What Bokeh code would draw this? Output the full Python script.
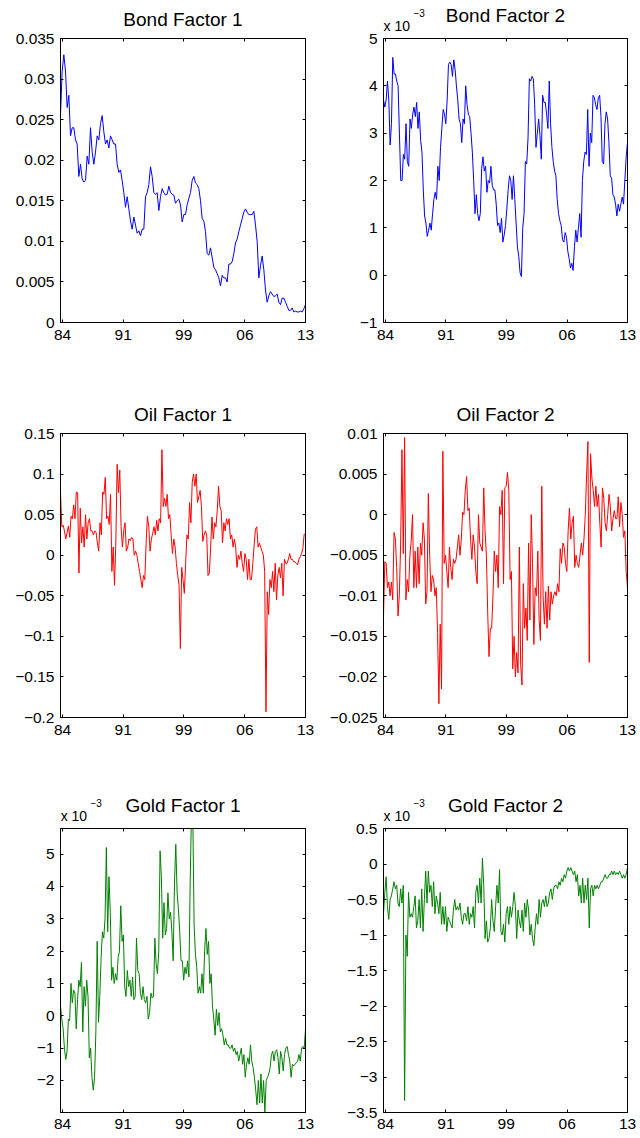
import numpy as np
from bokeh.plotting import figure
from bokeh.layouts import gridplot
from bokeh.models import Range1d, FixedTicker, CustomJSTickFormatter, LinearAxis, Title
from bokeh.embed import file_html
from bokeh.resources import INLINE

# ---------------- data ----------------
N_MONTHS = 348  # monthly sample 1984 - 2013
x_tick_pos = [3, 89, 175, 262, 348]
x_tick_labels = ["84", "91", "99", "06", "13"]
SCALE_POS = 19        # x position (months) of the "x 10" scale note
SCALE_TEXT = "x 10"
SCALE_EXP = "\u22123"

bond_f1 = [0.0255, 0.031, 0.033, 0.031, 0.0265, 0.028, 0.023, 0.024, 0.024, 0.0225, 0.022, 0.018, 0.0195,
           0.0177, 0.0173, 0.0175, 0.0205, 0.0195, 0.024, 0.021, 0.0195, 0.021, 0.023, 0.0225, 0.0245, 0.0255,
           0.0235, 0.022, 0.0225, 0.0215, 0.023, 0.0225, 0.022, 0.022, 0.0195, 0.0185, 0.0188, 0.0175, 0.016,
           0.0142, 0.0155, 0.014, 0.0125, 0.0115, 0.013, 0.012, 0.011, 0.0113, 0.0107, 0.0115, 0.0115, 0.0155,
           0.016, 0.017, 0.0192, 0.018, 0.016, 0.0158, 0.016, 0.0138, 0.0155, 0.0165, 0.016, 0.0157, 0.0158,
           0.0168, 0.016, 0.0158, 0.0157, 0.0147, 0.015, 0.0152, 0.0145, 0.0124, 0.0133, 0.0133, 0.0145, 0.0153,
           0.016, 0.0175, 0.018, 0.0172, 0.017, 0.0165, 0.015, 0.0128, 0.0125, 0.0112, 0.0085, 0.0083, 0.0092,
           0.008, 0.0068, 0.0065, 0.006, 0.0055, 0.0045, 0.0058, 0.0055, 0.0055, 0.005, 0.0072, 0.0072, 0.0075,
           0.0085, 0.0098, 0.0103, 0.0112, 0.012, 0.0128, 0.0136, 0.014, 0.0136, 0.0133, 0.0133, 0.0133, 0.0137,
           0.012, 0.01, 0.0055, 0.007, 0.0082, 0.0065, 0.004, 0.0025, 0.0033, 0.0038, 0.0035, 0.0032, 0.0033,
           0.0035, 0.0025, 0.0022, 0.003, 0.003, 0.0025, 0.002, 0.0015, 0.0015, 0.0018, 0.0013, 0.0014, 0.0013,
           0.0013, 0.0014, 0.0013, 0.0017, 0.0022]

# Bond factor 2, in units of 1e-3
bond_f2 = [3.7, 3.55, 3.7, 4.1, 3.7, 2.75, 3.2, 4.6, 4.25, 4.25, 4.1, 4.0, 3.0, 2.0, 2.0, 2.55, 2.45, 3.2, 2.4,
           2.3, 3.3, 3.1, 3.4, 3.55, 3.35, 3.65, 3.1, 3.45, 2.85, 2.6, 1.8, 1.25, 1.1, 0.82, 0.95, 1.1, 0.95, 1.3,
           1.6, 1.75, 1.6, 2.3, 2.0, 2.7, 3.1, 3.5, 3.4, 3.2, 3.7, 4.45, 4.5, 4.45, 4.2, 4.55, 4.35, 4.0, 3.7, 3.3,
           3.2, 2.8, 3.3, 3.2, 4.0, 3.6, 3.4, 3.35, 3.0, 2.6, 2.0, 1.3, 1.7, 1.3, 1.15, 1.3, 2.25, 2.5, 2.2, 2.3,
           1.75, 2.0, 1.95, 2.3, 1.9, 1.8, 1.8, 1.5, 1.05, 1.1, 0.9, 1.2, 0.7, 0.85, 1.05, 1.4, 1.8, 2.1, 2.0, 1.6,
           2.1, 1.6, 1.1, 0.6, 0.4, 0.05, -0.03, 1.0, 1.3, 2.4, 2.35, 2.9, 4.15, 4.1, 4.2, 4.15, 3.6, 2.7, 3.0,
           3.3, 2.95, 2.45, 3.8, 3.65, 3.65, 3.4, 3.1, 4.1, 3.2, 2.7, 2.4, 2.2, 2.1, 1.6, 1.3, 1.15, 1.05, 0.75,
           0.7, 0.9, 0.8, 0.5, 0.35, 0.15, 0.25, 0.1, 0.6, 0.95, 0.7, 1.0, 1.3, 0.8, 2.0, 2.4, 2.6, 2.55, 3.5, 2.3,
           3.0, 2.8, 3.8, 3.75, 3.6, 3.5, 3.75, 3.8, 3.35, 2.4, 2.35, 3.2, 3.45, 3.3, 2.8, 2.1, 2.05, 1.7, 1.65,
           1.5, 1.25, 1.5, 1.35, 1.5, 1.65, 1.5, 2.0, 2.5, 2.8]

oil_f1 = [0.077, 0.035, 0.037, 0.03, 0.02, 0.028, 0.036, 0.022, 0.048, 0.045, 0.062, 0.045, 0.078, 0.077, -0.022,
          0.058, 0.015, 0.035, 0.01, 0.05, 0.02, 0.04, 0.045, 0.03, 0.03, 0.025, 0.03, 0.028, 0.015, 0.005, 0.04,
          0.025, 0.078, 0.075, 0.096, 0.045, 0.048, 0.038, 0.075, -0.02, 0.01, -0.037, 0.015, 0.112, 0.077, 0.105,
          0.035, 0.01, 0.03, 0.04, 0.005, 0.01, 0.02, 0.018, 0.022, 0.02, 0.0, 0.005, 0.0, -0.01, -0.02, -0.03,
          -0.04, -0.025, -0.03, 0.015, 0.048, 0.035, 0.005, 0.02, 0.027, 0.035, 0.025, 0.043, 0.03, 0.045, 0.04,
          0.13, 0.06, 0.07, 0.06, 0.075, 0.045, 0.05, 0.025, 0.002, 0.02, 0.01, -0.01, -0.025, -0.037, -0.115,
          -0.015, -0.03, -0.047, -0.01, 0.025, 0.02, 0.065, 0.04, 0.09, 0.1, 0.085, 0.1, 0.065, 0.072, 0.08, 0.06,
          0.017, 0.025, 0.03, 0.025, -0.025, -0.022, 0.01, 0.047, 0.02, 0.04, 0.035, 0.055, 0.085, 0.06, 0.055,
          0.015, 0.04, 0.03, 0.045, 0.038, 0.045, 0.02, 0.025, 0.01, 0.02, 0.01, -0.015, 0.0, -0.005, 0.005, -0.01,
          -0.02, 0.002, -0.005, -0.03, -0.005, -0.03, -0.03, -0.01, 0.012, 0.032, 0.035, 0.01, 0.015, 0.01, 0.005,
          0.0, -0.02, -0.193, -0.045, -0.073, -0.03, -0.04, -0.02, -0.045, -0.01, -0.055, -0.025, -0.015, -0.028,
          -0.01, -0.05, -0.005, -0.01, -0.01, -0.005, 0.002, -0.005, -0.005, -0.008, -0.008, -0.01, -0.012,
          -0.005, -0.002, 0.002, 0.008, 0.026, 0.025]

oil_f2 = [-0.0125, -0.0058, -0.006, -0.009, -0.0083, -0.01, -0.0083, -0.0105, -0.0022, -0.003, -0.0065, -0.0125,
          -0.01, -0.0035, 0.008, -0.0048, 0.0095, -0.0105, -0.008, -0.0095, -0.005, -0.0033, 0.0, -0.009, -0.0045,
          -0.009, -0.004, -0.0085, -0.0035, -0.005, -0.001, -0.003, -0.011, -0.0095, 0.0026, -0.005, -0.0095,
          -0.0075, -0.008, -0.01, -0.009, -0.0145, -0.0233, -0.0135, -0.0215, 0.0078, -0.006, -0.005, -0.007,
          -0.009, -0.004, -0.0065, -0.008, -0.0055, -0.006, -0.0055, -0.004, -0.0025, -0.005, -0.003, 0.0003, 0.0,
          0.003, 0.0047, 0.0005, 0.0008, -0.003, -0.0055, -0.0025, -0.004, -0.007, -0.0085, 0.0, -0.0035, -0.004,
          -0.0045, 0.0033, -0.002, -0.005, -0.012, -0.0175, -0.014, -0.014, -0.01, -0.0045, -0.007, -0.005,
          -0.009, 0.001, 0.0, 0.003, -0.0085, 0.0033, 0.0035, 0.0052, 0.003, -0.008, -0.007, -0.019, -0.015,
          -0.02, -0.017, -0.0195, -0.004, -0.0185, -0.021, -0.0085, -0.014, -0.0115, -0.0155, -0.0035, -0.013,
          0.0, -0.006, -0.016, -0.009, -0.01, -0.0045, -0.013, -0.0155, 0.0035, -0.01, -0.0135, -0.0095, -0.014,
          -0.0088, -0.013, -0.0095, -0.011, -0.01, -0.0095, -0.01, -0.0085, -0.0095, -0.0042, -0.006, -0.0035,
          -0.004, -0.006, -0.007, -0.002, 0.0008, -0.003, -0.001, -0.0002, -0.0065, -0.005, -0.006, -0.0065,
          -0.005, -0.0035, -0.005, -0.003, 0.0, 0.005, 0.009, -0.0182, 0.0075, 0.0045, 0.003, 0.001, 0.0035,
          0.001, 0.0025, -0.001, -0.004, 0.0033, 0.002, -0.001, -0.002, 0.0, 0.0025, 0.001, -0.002, -0.0005,
          0.0005, -0.0005, -0.0005, 0.0022, -0.0015, 0.0015, 0.0, -0.0028, -0.002, -0.007, -0.009]

# Gold factors, in units of 1e-3
gold_f1 = [0.3, -0.1, -0.4, -1.0, -1.35, -1.1, -0.1, -0.15, 1.0, 0.4, 0.8, 0.7, -0.4, 0.5, 1.1, 0.9, 1.65, -0.5,
           0.9, 0.3, 1.1, 0.6, -1.3, -1.0, -1.9, -2.3, -1.9, -0.5, 2.3, -0.2, 0.6, 1.8, 2.6, 2.4, 3.0, 5.2, 2.6,
           4.3, 3.2, 1.1, 1.5, 1.0, 1.3, 1.1, 1.8, 2.0, 3.4, 2.3, 2.5, 0.9, 0.6, 1.4, 0.9, 1.1, 0.6, 1.2, 0.5, 0.6,
           2.4, 1.4, 1.3, 0.7, 0.5, 0.9, 0.5, 0.4, 0.6, -0.1, 0.1, 0.7, 0.55, 0.6, 2.4, 1.6, 1.3, 2.0, 5.1, 4.3,
           2.4, 3.5, 2.5, 2.7, 3.8, 3.0, 3.2, 2.6, 1.7, 4.1, 5.3, 3.8, 3.3, 2.6, 1.7, 1.7, 1.1, 1.5, 1.3, 1.7, 1.2,
           4.2, 6.3, 6.1, 2.8, 1.9, 1.5, 0.7, 0.9, 0.7, 1.3, 0.7, 2.0, 2.7, 1.9, 2.3, 1.0, 1.3, 0.3, -0.1, -0.6,
           0.2, -0.3, 0.1, -0.5, -0.4, -0.6, -0.9, -0.7, -0.9, -0.9, -1.0, -1.0, -0.9, -1.1, -1.0, -1.2, -1.1,
           -1.4, -1.2, -1.0, -1.5, -1.2, -1.9, -1.5, -1.3, -1.5, -0.9, -1.4, -1.6, -1.9, -2.3, -2.75, -2.0, -2.7,
           -1.8, -2.7, -2.0, -2.99, -2.0, -1.9, -1.8, -1.6, -1.2, -1.1, -1.4, -1.1, -1.05, -1.3, -1.8, -1.1, -1.3,
           -1.7, -1.2, -1.0, -0.95, -1.2, -1.4, -1.9, -1.5, -1.55, -1.5, -1.45, -1.4, -1.2, -1.4, -1.0, -0.95,
           -1.0, -0.4]

gold_f2 = [-0.7, -0.4, -0.18, -0.6, -0.78, -0.5, -0.45, -0.35, -0.25, -0.35, -0.3, -0.55, -0.6, -0.35, -0.55,
           -0.3, -3.33, -1.0, -1.3, -0.4, -0.75, -0.7, -0.75, -0.6, -0.45, -0.9, -0.8, -0.5, -0.9, -0.35, -0.95,
           -0.5, -0.1, -0.55, -0.1, -0.4, -0.3, -0.6, -0.25, -0.7, -0.45, -0.55, -0.7, -0.4, -0.85, -0.6, -0.85,
           -0.6, -0.95, -0.75, -0.8, -0.85, -0.9, -0.65, -0.5, -0.65, -0.6, -0.65, -0.55, -0.75, -0.85, -0.7,
           -0.7, -0.8, -0.6, -0.85, -0.7, -0.75, -0.6, -0.9, -0.4, -0.3, -0.55, -0.2, -0.55, 0.08, -0.3, -1.05,
           -0.8, -1.1, -1.05, -0.9, -0.5, -0.8, -0.95, -0.6, -0.3, -0.55, -0.08, -0.95, -1.0, -0.85, -1.1, -0.7,
           -0.6, -0.85, -0.6, -0.75, -0.6, -0.4, -0.6, -1.05, -0.65, -0.8, -0.9, -0.65, -0.95, -0.55, -0.75, -0.5,
           -0.65, -1.0, -0.85, -1.05, -1.15, -0.9, -0.7, -0.85, -0.5, -0.75, -0.55, -0.5, -0.6, -0.45, -0.6,
           -0.55, -0.4, -0.35, -0.5, -0.35, -0.3, -0.3, -0.35, -0.25, -0.3, -0.2, -0.25, -0.15, -0.2, -0.1, -0.05,
           -0.1, -0.05, -0.1, -0.15, -0.1, -0.25, -0.15, -0.45, -0.3, -0.55, -0.2, -0.55, -0.3, -0.5, -0.2, -0.9,
           -0.35, -0.3, -0.45, -0.3, -0.35, -0.3, -0.35, -0.3, -0.25, -0.25, -0.2, -0.15, -0.2, -0.2, -0.15, -0.15,
           -0.1, -0.15, -0.1, -0.15, -0.12, -0.15, -0.1, -0.15, -0.2, -0.15, -0.2, -0.15, -0.05]

# y ticks / labels per panel
bond1_ticks = [0, 0.005, 0.01, 0.015, 0.02, 0.025, 0.03, 0.035]
bond1_labels = ["0", "0.005", "0.01", "0.015", "0.02", "0.025", "0.03", "0.035"]
bond2_ticks = [-1, 0, 1, 2, 3, 4, 5]
bond2_labels = ["\u22121", "0", "1", "2", "3", "4", "5"]
oil1_ticks = [-0.2, -0.15, -0.1, -0.05, 0, 0.05, 0.1, 0.15]
oil1_labels = ["\u22120.2", "\u22120.15", "\u22120.1", "\u22120.05", "0", "0.05", "0.1", "0.15"]
oil2_ticks = [-0.025, -0.02, -0.015, -0.01, -0.005, 0, 0.005, 0.01]
oil2_labels = ["\u22120.025", "\u22120.02", "\u22120.015", "\u22120.01", "\u22120.005", "0", "0.005", "0.01"]
gold1_ticks = [-2, -1, 0, 1, 2, 3, 4, 5]
gold1_labels = ["\u22122", "\u22121", "0", "1", "2", "3", "4", "5"]
gold2_ticks = [-3.5, -3, -2.5, -2, -1.5, -1, -0.5, 0, 0.5]
gold2_labels = ["\u22123.5", "\u22123", "\u22122.5", "\u22122", "\u22121.5", "\u22121", "\u22120.5", "0", "0.5"]

BLUE, RED, GREEN = "#0000ff", "#ff0000", "#008000"
FONT = "Liberation Sans"
TICK_FS = "15.5px"


def fmt(ticks, labels):
    return CustomJSTickFormatter(args=dict(tv=ticks, tl=labels), code="""
const i = tv.findIndex(t => Math.abs(t - tick) < 1e-9);
return i >= 0 ? tl[i] : "";
""")


def style_axis(ax, ticks, labels, show_labels, standoff, font_size=TICK_FS):
    ax.ticker = FixedTicker(ticks=ticks)
    ax.major_tick_in = 3
    ax.major_tick_out = 0
    ax.minor_tick_line_color = None
    ax.axis_line_color = "black"
    ax.major_tick_line_color = "black"
    ax.major_label_text_font = FONT
    ax.major_label_text_color = "black"
    ax.major_label_standoff = standoff
    if show_labels:
        ax.formatter = fmt(ticks, labels)
        ax.major_label_text_font_size = font_size
    else:
        ax.formatter = CustomJSTickFormatter(code="return '';")
        ax.major_label_text_font_size = "0px"


def add_title(p, text, size, align, offset, standoff, valign="bottom"):
    p.add_layout(Title(text=text, text_font=FONT, text_font_size=size, text_font_style="normal",
                       text_color="black", align=align, offset=offset, standoff=standoff,
                       vertical_align=valign), "above")


def panel(title, values, color, yr, yticks, ylabels, col, last_row, sci=False):
    bl, br = (60, 15) if col == 0 else (63, 13)
    h = 348 if last_row else 395
    bb = 26 if last_row else 73
    p = figure(width=320, height=h, x_range=Range1d(0, N_MONTHS), y_range=Range1d(*yr),
               output_backend="svg", toolbar_location=None,
               min_border_left=bl, min_border_right=br, min_border_top=38, min_border_bottom=bb)
    p.grid.visible = False
    p.outline_line_color = "black"
    p.background_fill_color = "white"
    p.border_fill_color = "white"

    style_axis(p.xaxis[0], x_tick_pos, x_tick_labels, True, 6 if last_row else 7)
    style_axis(p.yaxis[0], yticks, ylabels, True, 6)
    top = LinearAxis()
    style_axis(top, x_tick_pos, x_tick_labels, False, 0)
    p.add_layout(top, "above")
    right = LinearAxis()
    style_axis(right, yticks, ylabels, False, 0)
    p.add_layout(right, "right")

    if sci:
        note = LinearAxis()
        style_axis(note, [SCALE_POS], [SCALE_TEXT], True, 5, font_size="14px")
        note.axis_line_color = None
        note.major_tick_line_color = None
        p.add_layout(note, "above")
        add_title(p, title, "19px", "center", 0, -23)
        add_title(p, SCALE_EXP, "10px", "left", 30, -4)
    else:
        add_title(p, title, "19px", "center", 0, 14, valign="top")

    xs = np.linspace(0, N_MONTHS, len(values))
    p.line(xs, values, line_color=color, line_width=1)
    return p


p1 = panel("Bond Factor 1", bond_f1, BLUE, (0, 0.035), bond1_ticks, bond1_labels, 0, False)
p2 = panel("Bond Factor 2", bond_f2, BLUE, (-1, 5), bond2_ticks, bond2_labels, 1, False, sci=True)
p3 = panel("Oil Factor 1", oil_f1, RED, (-0.2, 0.15), oil1_ticks, oil1_labels, 0, False)
p4 = panel("Oil Factor 2", oil_f2, RED, (-0.025, 0.01), oil2_ticks, oil2_labels, 1, False)
p5 = panel("Gold Factor 1", gold_f1, GREEN, (-2.99, 5.79), gold1_ticks, gold1_labels, 0, True, sci=True)
p6 = panel("Gold Factor 2", gold_f2, GREEN, (-3.5, 0.5), gold2_ticks, gold2_labels, 1, True, sci=True)

grid = gridplot([[p1, p2], [p3, p4], [p5, p6]], toolbar_location=None)

open("out.html", "w").write(file_html(grid, INLINE))
